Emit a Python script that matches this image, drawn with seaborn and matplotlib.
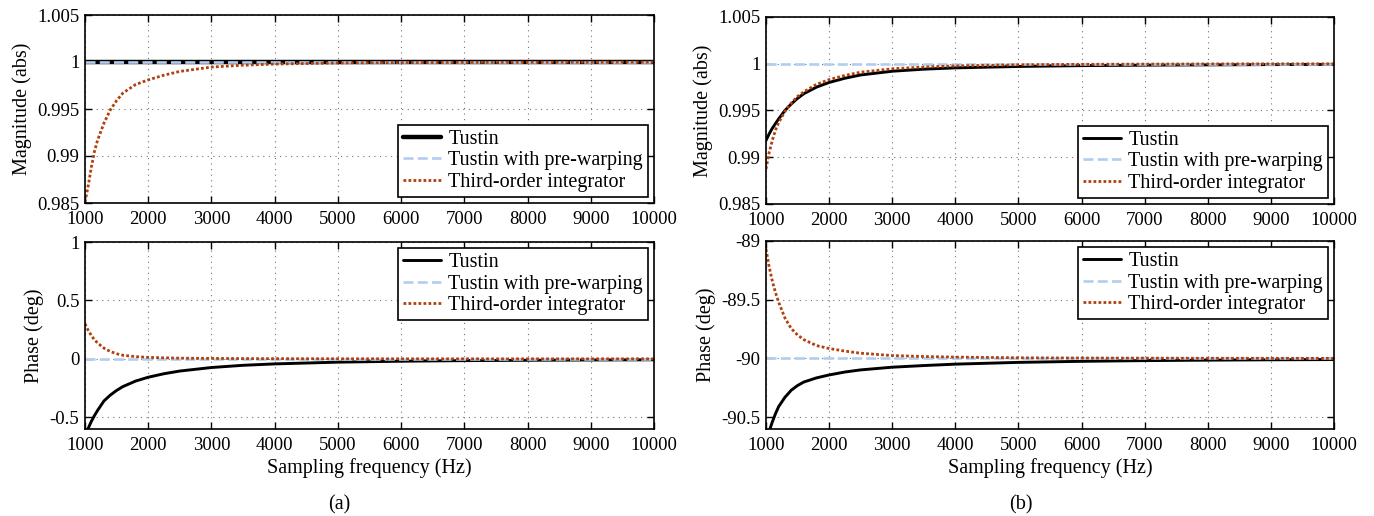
# comparaison Tustin / pre-warping / intégrateur 3e ordre, (a) et (b)

import numpy as np
import pandas as pd
import matplotlib
matplotlib.use('Agg')
import matplotlib.pyplot as plt
from matplotlib.ticker import FuncFormatter, MultipleLocator
import seaborn as sns

# fréquences d'échantillonnage (Hz)
freq = [1000, 1050, 1100, 1150, 1200, 1300, 1400, 1500, 1600, 1800, 2000,
        2250, 2500, 3000, 3500, 4000, 5000, 6000, 7000, 8000, 9000, 10000]

# === (a) ===
mag_a_tustin = [1.0] * len(freq)
mag_a_prewarp = [1.0] * len(freq)
mag_a_third = [0.9851, 0.9868, 0.9888, 0.9905, 0.9917, 0.9935, 0.9949, 0.9959,
               0.9967, 0.9976, 0.9981, 0.9986, 0.9990, 0.99946, 0.99966, 0.99978,
               0.99990, 0.99994, 0.99996, 0.99997, 0.99998, 0.99999]

ph_a_tustin = [-0.66, -0.595, -0.535, -0.485, -0.44, -0.36, -0.31, -0.27, -0.237,
               -0.19, -0.157, -0.127, -0.104, -0.074, -0.055, -0.043, -0.028,
               -0.020, -0.015, -0.012, -0.0095, -0.0078]
ph_a_prewarp = [0.0] * len(freq)
ph_a_third = [0.30, 0.245, 0.20, 0.163, 0.135, 0.092, 0.063, 0.044, 0.031, 0.019,
              0.013, 0.009, 0.006, 0.004, 0.0025, 0.0017, 0.0009, 0.0005, 0.0003,
              0.0002, 0.00015, 0.0001]

# === (b) ===
mag_b_tustin = [0.9918, 0.9925, 0.9931, 0.9936, 0.9941, 0.9950, 0.9957, 0.9963,
                0.9968, 0.9975, 0.9980, 0.99845, 0.9988, 0.9992, 0.99942, 0.99956,
                0.99971, 0.99980, 0.99985, 0.99988, 0.99991, 0.99993]
mag_b_prewarp = [1.0] * len(freq)
mag_b_third = [0.98875, 0.9905, 0.9918, 0.9929, 0.9937, 0.9949, 0.9958, 0.9965,
               0.9970, 0.9978, 0.9983, 0.99875, 0.9991, 0.99946, 0.99965, 0.99977,
               0.99989, 0.99994, 0.99996, 0.99998, 0.99999, 0.99999]

ph_b_tustin = [-90.72, -90.62, -90.54, -90.47, -90.41, -90.33, -90.27, -90.23,
               -90.20, -90.165, -90.14, -90.115, -90.097, -90.074, -90.06, -90.048,
               -90.033, -90.024, -90.018, -90.014, -90.011, -90.009]
ph_b_prewarp = [-90.0] * len(freq)
ph_b_third = [-89.07, -89.22, -89.34, -89.44, -89.52, -89.655, -89.745, -89.80,
              -89.84, -89.89, -89.915, -89.937, -89.955, -89.975, -89.983, -89.988,
              -89.994, -89.996, -89.997, -89.998, -89.9985, -89.999]

labels = ["Tustin", "Tustin with pre-warping", "Third-order integrator"]
xticks = list(range(1000, 10001, 1000))

sns.set_theme(style='ticks')
plt.rcParams['font.family'] = ['Liberation Serif', 'DejaVu Serif']
for k in ['text.color', 'axes.labelcolor', 'xtick.color', 'ytick.color', 'axes.edgecolor']:
    plt.rcParams[k] = 'black'

C_BLACK = 'black'
C_BLUE = '#b3cdee'
C_RED = '#b0400c'

fig = plt.figure(figsize=(13.74, 5.16), dpi=100)

W = 1374.0
H = 516.0
def add_ax(x0, y0, x1, y1):
    return fig.add_axes([x0 / W, 1 - y1 / H, (x1 - x0) / W, (y1 - y0) / H])

ax_a_mag = add_ax(85, 15, 654, 203)
ax_a_ph = add_ax(85, 242, 654, 429)
ax_b_mag = add_ax(766, 17, 1334, 204)
ax_b_ph = add_ax(766, 241, 1334, 429)

def draw(ax, s_t, s_p, s_3, tustin_lw=2.1):
    sns.lineplot(x=freq, y=s_t, ax=ax, color=C_BLACK, lw=tustin_lw, label=labels[0])
    sns.lineplot(x=freq, y=s_p, ax=ax, color=C_BLUE, lw=1.9,
                 linestyle=(0, (3.8, 1.6)), label=labels[1])
    sns.lineplot(x=freq, y=s_3, ax=ax, color=C_RED, lw=2.0,
                 linestyle=(0, (1, 0.8)), label=labels[2])

draw(ax_a_mag, mag_a_tustin, mag_a_prewarp, mag_a_third, tustin_lw=3.2)
draw(ax_a_ph, ph_a_tustin, ph_a_prewarp, ph_a_third)
draw(ax_b_mag, mag_b_tustin, mag_b_prewarp, mag_b_third)
draw(ax_b_ph, ph_b_tustin, ph_b_prewarp, ph_b_third)

fmt = FuncFormatter(lambda v, p: '%g' % round(v, 6))

for ax in [ax_a_mag, ax_a_ph, ax_b_mag, ax_b_ph]:
    ax.set_xlim(1000, 10000)
    ax.set_xticks(xticks)
    ax.yaxis.set_major_formatter(fmt)
    ax.grid(True, color='0.45', linestyle=(0, (1, 4)), lw=0.8)
    ax.tick_params(direction='in', top=True, right=True, length=5, width=1.0,
                   labelsize=13.5)
    ax.tick_params(axis='x', pad=6)
    ax.tick_params(axis='y', pad=4)
    for s in ax.spines.values():
        s.set_linewidth(1.2)
        s.set_color('black')
    ax.set_xlabel('')

leg_kw = dict(fontsize=14.5, frameon=True, fancybox=False, edgecolor='black',
              framealpha=1, borderaxespad=0.3, borderpad=0.25, labelspacing=0.12,
              handlelength=1.9, handletextpad=0.35)

for ax in [ax_a_mag, ax_b_mag]:
    ax.set_ylim(0.985, 1.005)
    ax.yaxis.set_major_locator(MultipleLocator(0.005))
    ax.set_ylabel('Magnitude (abs)', fontsize=14.5, labelpad=4)
    ax.legend(loc='lower right', **leg_kw).get_frame().set_linewidth(1.2)

ax_a_ph.set_ylim(-0.6, 1)
ax_a_ph.yaxis.set_major_locator(MultipleLocator(0.5))
ax_b_ph.set_ylim(-90.6, -89)
ax_b_ph.yaxis.set_major_locator(MultipleLocator(0.5))

for ax in [ax_a_ph, ax_b_ph]:
    ax.set_ylabel('Phase (deg)', fontsize=14.5, labelpad=4)
    ax.set_xlabel('Sampling frequency (Hz)', fontsize=14.5, labelpad=3)
    ax.legend(loc='upper right', **leg_kw).get_frame().set_linewidth(1.2)

fig.text(339 / W, 1 - 505 / H, '(a)', ha='center', va='center', fontsize=14.5)
fig.text(1021 / W, 1 - 505 / H, '(b)', ha='center', va='center', fontsize=14.5)

plt.savefig('out.png', dpi=100)
